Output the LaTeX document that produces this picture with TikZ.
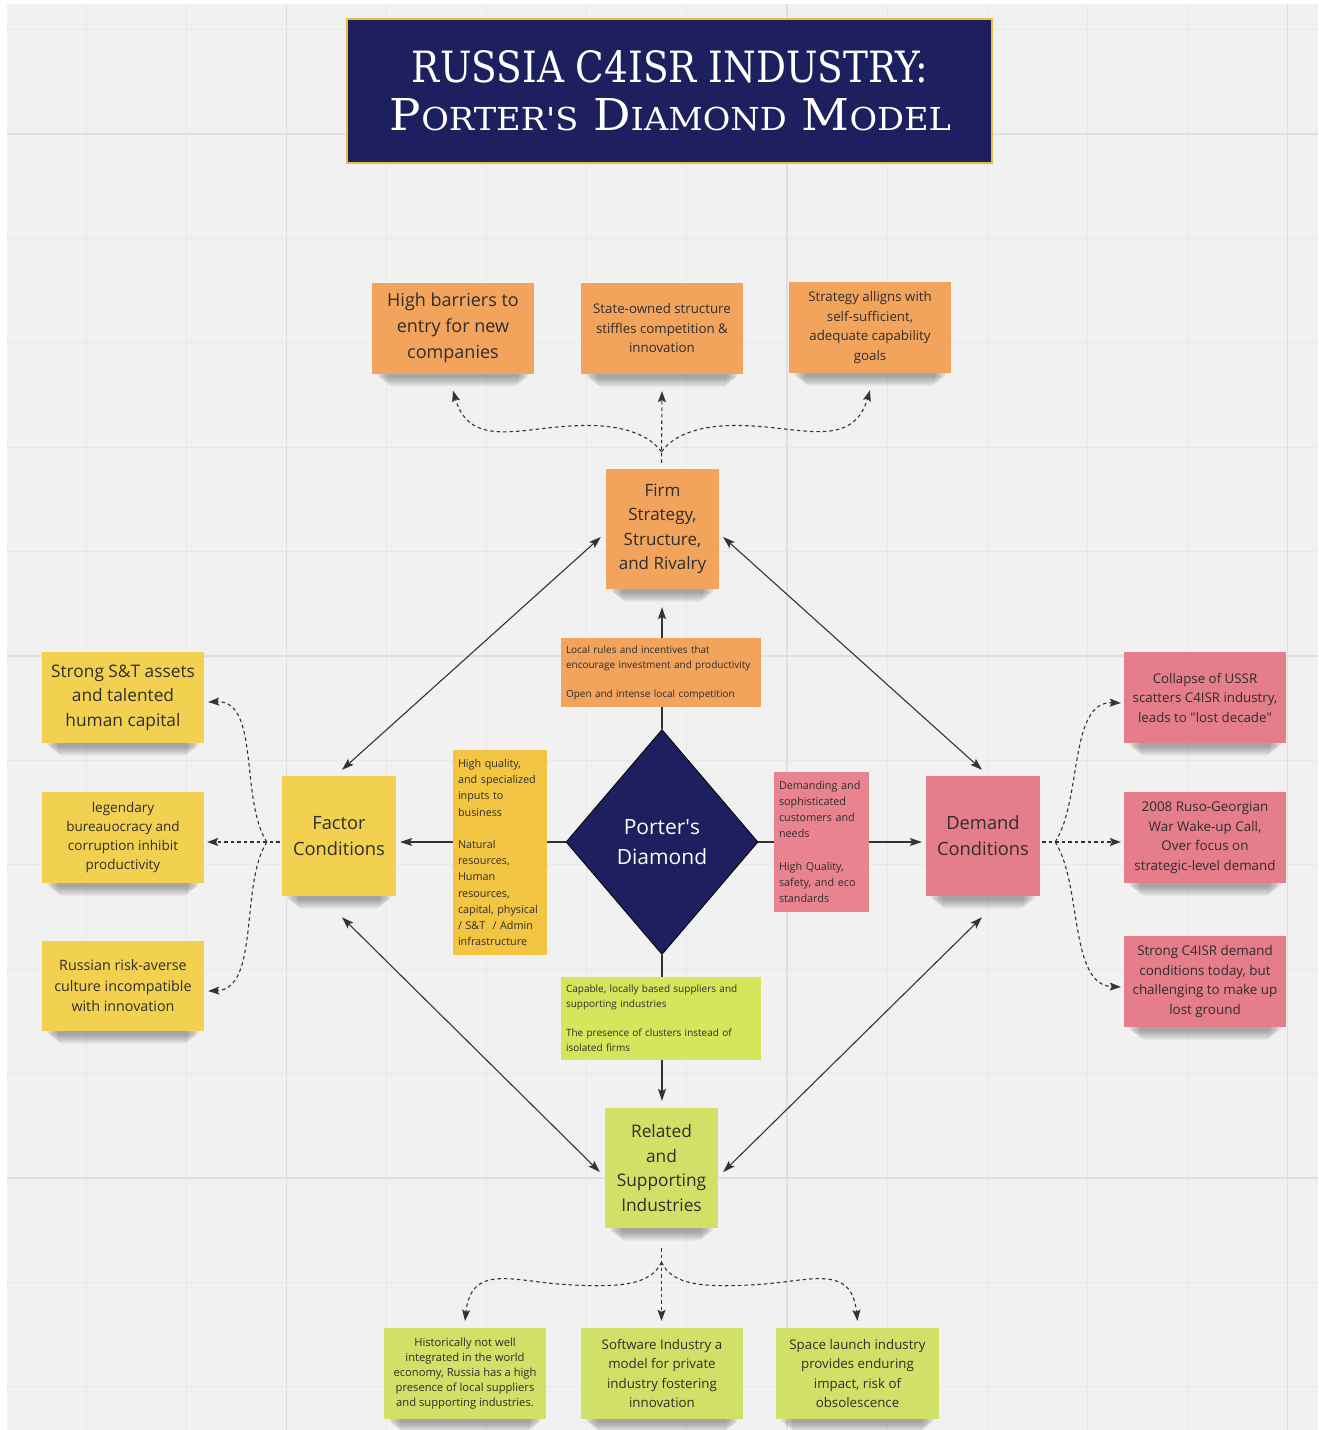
\documentclass[tikz,border=0pt]{standalone}
\usepackage{fontspec}
\setmainfont{Open Sans}
\newfontfamily\titlefont{DejaVu Serif}
\usetikzlibrary{arrows.meta,shapes.geometric,calc}

\definecolor{navy}{HTML}{1E1F5E}
\definecolor{gold}{HTML}{E6BF3E}
\definecolor{paper}{HTML}{F1F1F1}
\definecolor{gridminor}{HTML}{E8E8E8}
\definecolor{gridmajor}{HTML}{DFDFDF}
\definecolor{ink}{HTML}{2E2E2E}
\definecolor{linkc}{HTML}{333333}
\definecolor{orangenote}{HTML}{F2A35C}
\definecolor{yellownote}{HTML}{F3D150}
\definecolor{yellowlabel}{HTML}{F2C543}
\definecolor{pinknote}{HTML}{E57D8A}
\definecolor{pinklabel}{HTML}{E8838F}
\definecolor{greennote}{HTML}{D1E066}
\definecolor{greenlabel}{HTML}{D5E55C}

\pgfdeclarelayer{grid}
\pgfdeclarelayer{shade}
\pgfdeclarelayer{links}
\pgfsetlayers{grid,shade,links,main}

% small capitals for the title line
\newcommand\tsc[1]{{\fontsize{7.2pt}{7.2pt}\selectfont #1}}

\begin{document}
\begin{tikzpicture}[x=1pt,y=-1pt,
  fs/.style 2 args={font={\fontsize{#1pt}{#2pt}\selectfont}},
  note/.style={rectangle, inner sep=2pt, align=center, text=ink,
    minimum width=162pt, minimum height=91pt},
  center note/.style={rectangle, inner sep=2pt, align=center, text=ink,
    minimum width=114pt, minimum height=120pt},
  label box/.style={rectangle, inner xsep=5pt, inner ysep=3pt, align=left, text=ink},
  conn/.style={draw=linkc, line width=1.1pt},
  arr/.style={conn, -{Stealth[length=12pt,width=8pt,inset=2.5pt]}},
  biarrow/.style={conn, {Stealth[length=12pt,width=8pt,inset=2.5pt]}-{Stealth[length=12pt,width=8pt,inset=2.5pt]}},
  dlink/.style={conn, dash pattern=on 3.5pt off 3pt, -{Stealth[length=11pt,width=8pt,inset=2pt]}}
]
\useasboundingbox (0,0) rectangle (1318,1430);

% board and grid
\begin{pgfonlayer}{grid}
  \fill[white] (0,0) rectangle (1318,1430);
  \fill[paper] (7,4) rectangle (1318,1430);
  \foreach \i in {0,...,12} {
    \draw[gridminor, line width=1pt] ({86.2+100.1*\i},4) -- ({86.2+100.1*\i},1430);
  }
  \foreach \i in {0,...,13} {
    \draw[gridminor, line width=1pt] (7,{29.6+104.4*\i}) -- (1318,{29.6+104.4*\i});
  }
  \foreach \xx in {286.4,786.9,1287.4} {
    \draw[gridmajor, line width=1.6pt] (\xx,4) -- (\xx,1430);
  }
  \foreach \yy in {134,656,1178} {
    \draw[gridmajor, line width=1.6pt] (7,\yy) -- (1318,\yy);
  }
\end{pgfonlayer}

% title
\node[draw=gold, line width=2pt, fill=navy, minimum width=645pt, minimum height=144pt, inner sep=0pt] (title) at (669.5,91) {};
\node[anchor=base, text=white, inner sep=0pt] (title1) at (670,82)
  {\resizebox{516pt}{32pt}{\titlefont RUSSIA C4ISR INDUSTRY:}};
\node[anchor=base, text=white, inner sep=0pt] (title2) at (670.5,130)
  {\resizebox{561pt}{32pt}{\titlefont P\tsc{ORTER\textquotesingle S} D\tsc{IAMOND} M\tsc{ODEL}}};

% firm strategy row
\node[note, fill=orangenote, fs={18}{26}] (A1) at (453,328) {High barriers to\\entry for new\\companies};
\node[note, fill=orangenote, fs={13.3}{19.5}] (A2) at (662,328.5) {State-owned structure\\stiffles competition \&\\innovation};
\node[note, fill=orangenote, fs={13.3}{19.5}] (A3) at (870,327.5) {Strategy alligns with\\self-sufficient,\\adequate capability\\goals};

% the four determinants
\node[center note, minimum width=113pt, fill=orangenote, fs={17}{24.5}] (F) at (662.5,529) {Firm\\Strategy,\\Structure,\\and Rivalry};
\node[center note, fill=yellownote, fs={18.3}{26}] (FC) at (339,836) {Factor\\Conditions};
\node[center note, fill=pinknote, fs={18.3}{26}] (DC) at (983,836) {Demand\\Conditions};
\node[center note, minimum width=113pt, fill=greennote, fs={17.3}{24.7}] (RSI) at (661.5,1168) {Related\\and\\Supporting\\Industries};

% the diamond
\node[diamond, draw=black, line width=0.8pt, fill=navy, minimum width=192pt, minimum height=225pt,
  inner sep=0pt, text=white, align=center, fs={21}{30}] (D) at (662,842) {Porter\textquotesingle s\\Diamond};

% factor notes
\node[note, fill=yellownote, fs={17.3}{24.5}] (Y1) at (123,697.5) {Strong S\&T assets\\and talented\\human capital};
\node[note, fill=yellownote, fs={13.5}{19.3}] (Y2) at (123,837.5) {legendary\\bureauocracy and\\corruption inhibit\\productivity};
\node[note, fill=yellownote, fs={14.3}{20.5}, minimum height=90pt] (Y3) at (123,986) {Russian risk-averse\\culture incompatible\\with innovation};

% demand notes
\node[note, fill=pinknote, fs={13.3}{19.5}] (R1) at (1205,697.5) {Collapse of USSR\\scatters C4ISR industry,\\leads to \textquotedbl lost decade\textquotedbl};
\node[note, fill=pinknote, fs={13.4}{19.5}] (R2) at (1205,837.5) {2008 Ruso-Georgian\\War Wake-up Call,\\Over focus on\\strategic-level demand};
\node[note, fill=pinknote, fs={13.4}{19.5}] (R3) at (1205,981.5) {Strong C4ISR demand\\conditions today, but\\challenging to make up\\lost ground};

% supporting industry notes
\node[note, fill=greennote, fs={11.2}{15}] (G1) at (465,1373.5) {Historically not well\\integrated in the world\\economy, Russia has a high\\presence of local suppliers\\and supporting industries.};
\node[note, fill=greennote, fs={13.3}{19.5}] (G2) at (662,1373.5) {Software Industry a\\model for private\\industry fostering\\innovation};
\node[note, fill=greennote, fs={13.3}{19.5}, minimum width=163pt] (G3) at (857.5,1373.5) {Space launch industry\\provides enduring\\impact, risk of\\obsolescence};

% labels on the spokes
\node[label box, fill=orangenote, text width=190pt, minimum height=69pt, fs={10}{15}] (L1) at (661,672.5)
  {Local rules and incentives that\\encourage investment and productivity\\[14pt]Open and intense local competition};
\node[label box, fill=yellowlabel, text width=84pt, minimum height=205pt, fs={10.8}{16.2}] (L2) at (500,852.5)
  {High quality,\\and specialized\\inputs to\\business\\[16.2pt]Natural\\resources,\\Human\\resources,\\capital, physical\\/ S\&T~ / Admin\\infrastructure};
\node[label box, fill=pinklabel, text width=85pt, minimum height=140pt, fs={10.8}{16.2}] (L3) at (821.5,842)
  {Demanding and\\sophisticated\\customers and\\needs\\[16.2pt]High Quality,\\safety, and eco\\standards};
\node[label box, fill=greenlabel, text width=190pt, minimum height=83pt, fs={10}{15}] (L4) at (661,1018.5)
  {Capable, locally based suppliers and\\supporting industries\\[14pt]The presence of clusters instead of\\isolated firms};

% shadows under the sticky notes
\begin{pgfonlayer}{shade}
  \foreach \n in {A1,A2,A3,F,FC,DC,RSI,Y1,Y2,Y3,R1,R2,R3,G1,G2,G3} {
    \foreach \k in {0,...,5} {
      \fill[black, opacity=0.06, rounded corners=4pt]
        ($(\n.south west)+({5+2.2*\k},-10)$) rectangle ($(\n.south east)+({-5-2.2*\k},{4+1.7*\k})$);
    }
  }
\end{pgfonlayer}

\begin{pgfonlayer}{links}
  % spokes of the diamond
  \draw[arr] (D.north) -- ($(D.north |- F.south)+(0,18)$);
  \draw[arr] (D.south) -- ($(D.south |- RSI.north)+(0,-7)$);
  \draw[arr] (D.west) -- ($(D.west -| FC.east)+(4,0)$);
  \draw[arr] (D.east) -- ($(D.east -| DC.west)+(-4,0)$);

  % outer edges of the diamond
  \draw[biarrow] ($(F.west)+(-5,8)$) -- ($(FC.north)+(3,-6)$);
  \draw[biarrow] ($(F.east)+(4,8)$) -- ($(DC.north)+(-1,-6)$);
  \draw[biarrow] ($(FC.south)+(3,21)$) -- ($(RSI.west)+(-5,4)$);
  \draw[biarrow] ($(DC.south)+(-1,21)$) -- ($(RSI.east)+(5,4)$);

  % fan above the firm strategy note
  \coordinate (th) at ($(F.north)+(-1,-17)$);
  \draw[dlink] ($(F.north)+(-1,-6)$) -- ($(A2.south)+(0,17)$);
  \draw[dlink] (th) .. controls +(-16,-22) and +(36,-2) .. ++(-87,-26)
                    .. controls +(-54,2) and +(17,58) .. ($(A1.south)+(0,17)$);
  \draw[dlink] (th) .. controls +(16,-22) and +(-36,-2) .. ++(87,-26)
                    .. controls +(54,2) and +(-17,58) .. ($(A3.south)+(0,17)$);

  % fan below the supporting industries note
  \coordinate (bh) at ($(RSI.south)+(0,34)$);
  \draw[dlink] ($(RSI.south)+(0,20)$) -- ($(RSI.south |- G2.north)+(0,-7)$);
  \draw[dlink] (bh) .. controls +(-11,23) and +(60,4) .. ++(-101,22)
                    .. controls +(-50,-4) and +(6,-56) .. ($(G1.north)+(0,-7)$);
  \draw[dlink] (bh) .. controls +(11,23) and +(-60,4) .. ++(101,22)
                    .. controls +(50,-4) and +(-6,-56) .. ($(G3.north)+(0,-7)$);

  % fan left of the factor note
  \coordinate (lh) at ($(FC.west)+(-15,6)$);
  \draw[dlink] ($(FC.west)+(-2,6)$) -- ($(lh -| Y2.east)+(3,0)$);
  \draw[dlink] (lh) .. controls +(-27,-42) and +(52,-2) .. ($(Y1.east)+(4,4.5)$);
  \draw[dlink] (lh) .. controls +(-27,42) and +(52,-2) .. ($(Y3.east)+(4,5)$);

  % fan right of the demand note
  \coordinate (rh) at ($(DC.east)+(15,6)$);
  \draw[dlink] ($(DC.east)+(2,6)$) -- ($(rh -| R2.west)+(-3,0)$);
  \draw[dlink] (rh) .. controls +(27,-42) and +(-52,-2) .. ($(R1.west)+(-3,5.5)$);
  \draw[dlink] (rh) .. controls +(27,42) and +(-52,-2) .. ($(R3.west)+(-3,5.5)$);
\end{pgfonlayer}
\end{tikzpicture}
\end{document}
